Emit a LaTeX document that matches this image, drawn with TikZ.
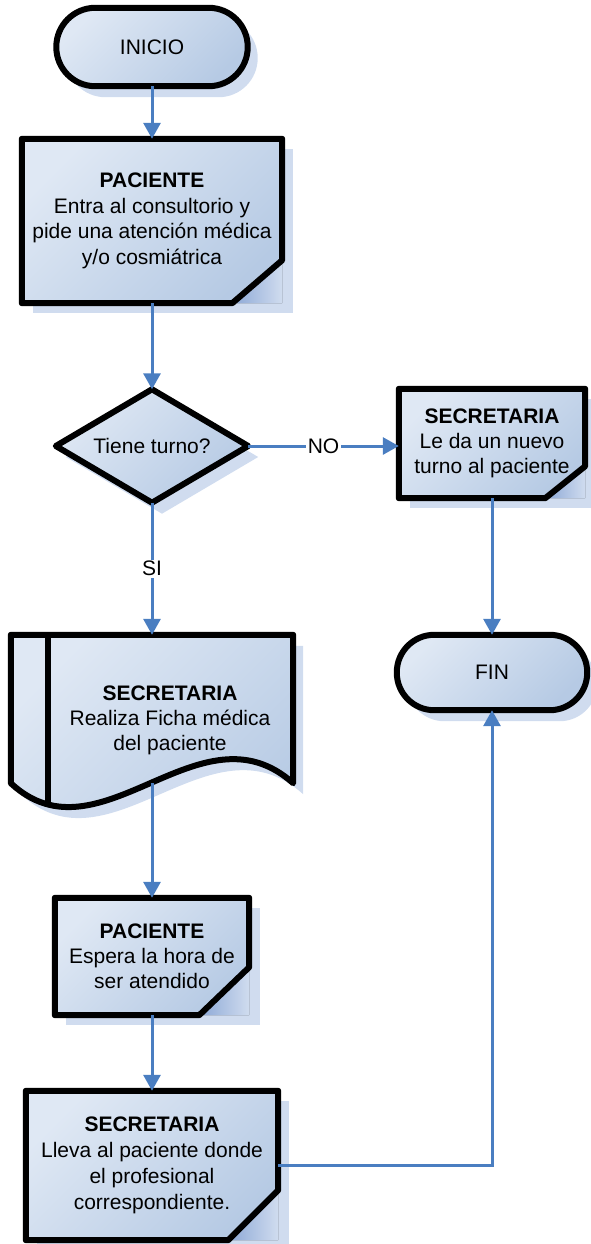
\documentclass[tikz,border=0pt]{standalone}
\usepackage{fontspec}
\setmainfont{Liberation Sans}
\usetikzlibrary{arrows.meta,calc,backgrounds,shadows}

\definecolor{gl}{RGB}{223,232,244}
\definecolor{gr}{RGB}{182,202,228}
\definecolor{shadowc}{RGB}{208,220,239}
\definecolor{foldc}{RGB}{140,168,214}
\definecolor{flow}{RGB}{74,126,193}

\tikzset{
  outline/.style={draw=black, line width=6pt, line join=round},
  grad/.style={top color=gl, bottom color=gr, shading angle=45},
  soft shadow/.style={drop shadow={shadow xshift=10pt, shadow yshift=-11pt, fill=shadowc, opacity=1}},
  foldshade/.style={left color=foldc, right color=shadowc},
  txt/.style={rectangle, inner sep=0pt, align=center, font=\fontsize{21}{25.5}\selectfont},
  flowline/.style={draw=flow, line width=3pt},
  flowarrow/.style={flowline, -{Triangle[width=17pt,length=16pt]}},
  edgelabel/.style={fill=white, inner sep=1.5pt, font=\fontsize{21}{25}\selectfont},
}

% card with a folded lower-right corner: node name, fold width, fold height
\newcommand\foldcard[3]{%
  \fill[shadowc] ($(#1.north west)+(11,10)$) rectangle ($(#1.south east)+(11,10)$);
  \fill[foldshade] (#1.south east) -- ($(#1.south east)+(0,-#3)$) -- ($(#1.south east)+(-#2,0)$) -- cycle;
  \draw[outline, grad] (#1.north west) -- (#1.north east) -- ($(#1.south east)+(0,-#3)$)
     -- ($(#1.south east)+(-#2,0)$) -- (#1.south west) -- cycle;
}

\begin{document}
\begin{tikzpicture}[x=1pt, y=-1pt]
\useasboundingbox (0,0) rectangle (590,1244);

% nodes carrying the texts, sized like their shapes
\node[txt, minimum width=191pt, minimum height=78pt] (inicio) at (152,47) {INICIO};
\node[txt, minimum width=260pt, minimum height=164pt] (p1) at (152,221)
  {\textbf{PACIENTE}\\Entra al consultorio y\\pide una atención médica\\y/o cosmiátrica};
\node[txt, minimum width=192pt, minimum height=113pt] (dec) at (152,446) {Tiene turno?};
\node[txt, minimum width=186pt, minimum height=109pt, font=\fontsize{21}{25}\selectfont] (sec1) at (492,443.5)
  {\textbf{SECRETARIA}\\Le da un nuevo\\turno al paciente};
\node[txt, minimum width=190pt, minimum height=75pt] (fin) at (492,672.5) {FIN};
\node[txt, minimum width=282pt, minimum height=148pt] (doc) at (152,709) {};
\node[txt, font=\fontsize{21}{25}\selectfont] (doctxt) at (170,720)
  {\textbf{SECRETARIA}\\Realiza Ficha médica\\del paciente};
\node[txt, minimum width=194pt, minimum height=117pt, font=\fontsize{21}{25}\selectfont] (p2) at (152,956.5)
  {\textbf{PACIENTE}\\Espera la hora de\\ser atendido};
\node[txt, minimum width=252pt, minimum height=149pt, font=\fontsize{21}{26}\selectfont] (p3) at (152,1165.5)
  {\textbf{SECRETARIA}\\Lleva al paciente donde\\el profesional\\correspondiente.};

\begin{scope}[on background layer]
  % terminals
  \draw[outline, grad, soft shadow, rounded corners=39pt] (inicio.north west) rectangle (inicio.south east);
  \draw[outline, grad, soft shadow, rounded corners=37.5pt] (fin.north west) rectangle (fin.south east);
  % decision
  \draw[outline, grad, soft shadow] (dec.north) -- (dec.east) -- (dec.south) -- (dec.west) -- cycle;
  % process cards
  \foldcard{p1}{50}{43}
  \foldcard{sec1}{40}{32}
  \foldcard{p2}{50}{48}
  \foldcard{p3}{50}{50}
  % document with stored-data bar and wavy lower edge
  \draw[outline, grad, soft shadow] (doc.north west) -- (doc.north east) -- (doc.south east)
     .. controls (200,700) and (100,866) .. (doc.south west) -- cycle;
  \draw[line width=6pt] (48,635) -- (48,802);
\end{scope}

% connectors
\draw[flowarrow] (inicio.south) -- (p1.north);
\draw[flowarrow] (p1.south) -- (dec.north);
\draw[flowarrow] (dec.east) -- node[edgelabel] {NO} (dec.east -| sec1.west);
\draw[flowarrow] (dec.south) -- node[edgelabel] {SI} (doc.north);
\draw[flowarrow] (sec1.south) -- (fin.north);
\draw[flowarrow] (doc.south) -- (p2.north);
\draw[flowarrow] (p2.south) -- (p3.north);
\draw[flowarrow] (p3.east) -| (fin.south);
\end{tikzpicture}
\end{document}
